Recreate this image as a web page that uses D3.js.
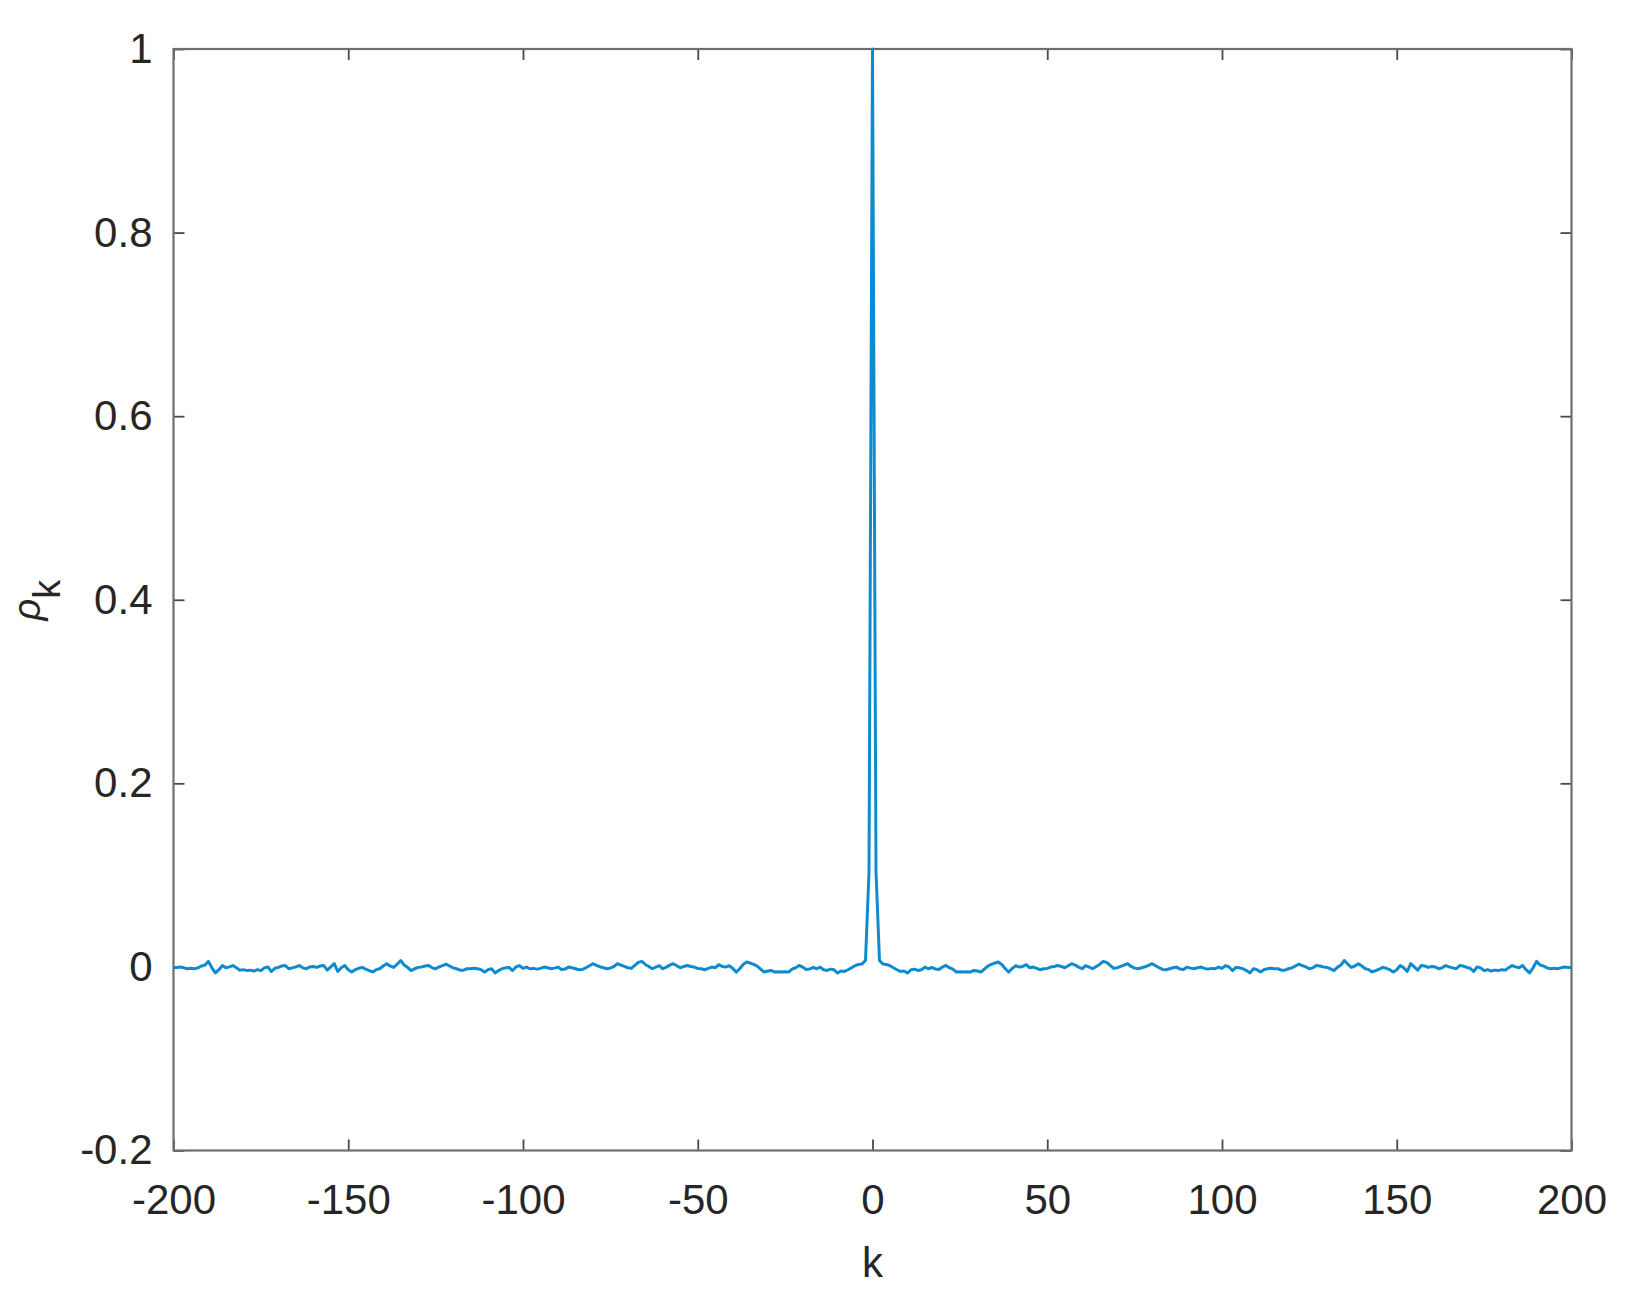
<!DOCTYPE html>
<html>
<head>
<meta charset="utf-8">
<script src="https://cdn.jsdelivr.net/npm/d3@7"></script>
<style>
  body { margin: 0; background: #fff; }
  text { font-family: "Liberation Sans", Arial, sans-serif; fill: #262626; }
</style>
</head>
<body>
<div id="chart"></div>
<script>
// sample autocorrelation rho_k.
// the curve is symmetric in k, so only lags 0..200 are kept.
const rhoNear = [ // k = 0..100
  1, 0.104, 0.007, 0.0031, 0.0027, 0.0013, -0.0009, -0.0031, -0.0049, -0.0045, -0.0067,
  -0.0031, -0.0024, -0.0038, -0.0031, -0.0002, -0.002, -0.0005, -0.0024, -0.0027, -0.0002,
  0.0016, -0.0009, -0.0024, -0.0056, -0.0053, -0.0056, -0.0053, -0.0056, -0.0038, -0.0045,
  -0.0056, -0.0024, 0.0009, 0.0027, 0.0042, 0.0053, 0.0027, -0.002, -0.0056, -0.0016,
  0.0013, -0.0002, 0.0005, 0.0024, -0.0009, -0.0002, -0.0016, -0.0031, -0.002, -0.0016,
  -0.0002, 0.0005, 0.0016, 0.0005, -0.0009, 0.0013, 0.0035, 0.002, -0.0002, -0.002,
  0.0013, -0.0002, -0.002, 0.0005, 0.0027, 0.006, 0.0049, 0.0016, -0.0016, -0.0009,
  0.0005, 0.002, 0.0035, 0.0005, -0.0013, -0.002, -0.0009, 0.0002, 0.0016, 0.0035,
  0.0013, -0.0009, -0.0027, -0.0031, -0.002, -0.0009, -0.0002, -0.0024, -0.0027, -0.0002,
  -0.0013, -0.002, -0.0009, -0.0002, -0.0016, -0.0024, -0.0016, -0.002, -0.0002, -0.0016
];
const rhoFar = [ // k = 101..200
  0.0015, 0, -0.004, -0.0005, -0.001, -0.002, -0.004, -0.0065, -0.002, -0.003,
  -0.0055, -0.003, -0.002, -0.0015, -0.002, -0.002, -0.0035, -0.0035, -0.002, -0.001,
  0.001, 0.003, 0.0015, 0, -0.002, -0.001, 0.0015, 0.001, 0, -0.0005,
  -0.002, -0.004, -0.0005, 0.002, 0.007, 0.003, -0.0005, 0.001, 0.0035, 0.001,
  -0.002, -0.003, -0.0055, -0.004, -0.0025, -0.0005, -0.0015, -0.003, -0.0055, -0.003,
  0.0015, -0.001, -0.005, 0.0035, 0, -0.0035, 0.0015, 0.001, -0.0005, 0.0005,
  0, -0.002, -0.001, 0.0015, 0, -0.001, -0.002, 0.0015, 0.001, -0.0005,
  -0.0015, -0.005, 0, -0.001, -0.004, -0.003, -0.0045, -0.0035, -0.004, -0.003,
  -0.0035, -0.001, 0.0015, 0, -0.001, 0.0015, -0.003, -0.0065, -0.001, 0.006,
  0.002, 0.001, -0.001, -0.002, -0.0015, -0.002, -0.001, 0, -0.0005, -0.0005
];
const xTicks = [-200, -150, -100, -50, 0, 50, 100, 150, 200];
const yTicks = [-0.2, 0, 0.2, 0.4, 0.6, 0.8, 1];
const yTickLabels = ['-0.2', '0', '0.2', '0.4', '0.6', '0.8', '1'];

const lags = d3.range(-200, 201);
const series = lags.map(k => {
  const a = Math.abs(k);
  return { k: k, v: a <= 100 ? rhoNear[a] : rhoFar[a - 101] };
});

const width = 1631;
const height = 1315;
const margin = {top: 49, right: 59.5, bottom: 164.5, left: 173.5};

const svg = d3.select('#chart')
  .append('svg')
  .attr('width', width)
  .attr('height', height);

const x = d3.scaleLinear()
  .domain([-200, 200])
  .range([margin.left, width - margin.right]);

const y = d3.scaleLinear()
  .domain([-0.2, 1])
  .range([height - margin.bottom, margin.top]);

const axisColor = '#6e6e6e';
const tickColor = '#4a4a4a';

function styleAxis(g) {
  g.select('.domain').remove();
  g.selectAll('.tick line').attr('stroke', tickColor).attr('stroke-width', 1.8);
  g.selectAll('.tick text').attr('fill', '#262626');
  g.attr('font-size', '42px').attr('font-family', '"Liberation Sans", Arial, sans-serif');
}

svg.append('g')
  .attr('transform', `translate(0,${y(-0.2)})`)
  .call(d3.axisBottom(x).tickValues(xTicks).tickSizeInner(-11).tickSizeOuter(0).tickPadding(34).tickFormat(d => String(d)))
  .call(styleAxis);

svg.append('g')
  .attr('transform', `translate(0,${y(1)})`)
  .call(d3.axisTop(x).tickValues(xTicks).tickSizeInner(-11).tickSizeOuter(0).tickFormat(''))
  .call(styleAxis);

svg.append('g')
  .attr('transform', `translate(${x(-200)},0)`)
  .call(d3.axisLeft(y).tickValues(yTicks).tickSizeInner(-11).tickSizeOuter(0).tickPadding(21).tickFormat((d, i) => yTickLabels[i]))
  .call(styleAxis);

svg.append('g')
  .attr('transform', `translate(${x(200)},0)`)
  .call(d3.axisRight(y).tickValues(yTicks).tickSizeInner(-11).tickSizeOuter(0).tickFormat(''))
  .call(styleAxis);

// axes box
svg.append('rect')
  .attr('x', x(-200))
  .attr('y', y(1))
  .attr('width', x(200) - x(-200))
  .attr('height', y(-0.2) - y(1))
  .attr('fill', 'none')
  .attr('stroke', axisColor)
  .attr('stroke-width', 2.2);

const line = d3.line()
  .x(d => x(d.k))
  .y(d => y(d.v));

svg.append('path')
  .datum(series)
  .attr('fill', 'none')
  .attr('stroke', '#0e8bd0')
  .attr('stroke-width', 3)
  .attr('stroke-linejoin', 'round')
  .attr('d', line);

// axis titles
svg.append('text')
  .attr('x', x(0))
  .attr('y', 1277)
  .attr('text-anchor', 'middle')
  .attr('font-size', '42px')
  .text('k');

const yl = svg.append('text')
  .attr('transform', `translate(40,600) rotate(-90)`)
  .attr('text-anchor', 'middle')
  .attr('font-size', '38px');
yl.append('tspan').attr('font-style', 'italic').text('ρ');
yl.append('tspan').attr('dy', 20).attr('font-size', '38px').text('k');
</script>
</body>
</html>
